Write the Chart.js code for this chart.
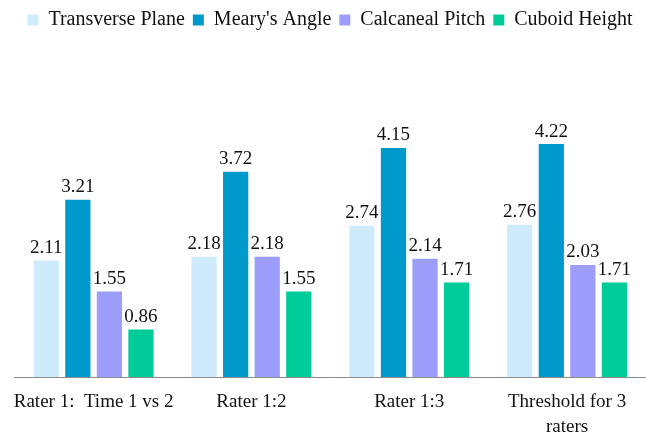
<!DOCTYPE html>
<html>
<head>
<meta charset="utf-8">
<script src="https://cdn.jsdelivr.net/npm/chart.js@4.4.1/dist/chart.umd.min.js"></script>
<style>
  html, body { margin: 0; padding: 0; background: #fff; }
  #wrap { width: 646px; height: 437px; }
</style>
</head>
<body>
<div id="wrap"><canvas id="barChart"></canvas></div>
<script>
const categories = ['Rater 1:  Time 1 vs 2', 'Rater 1:2', 'Rater 1:3', ['Threshold for 3', 'raters']];
const seriesNames = ['Transverse Plane', "Meary's Angle", 'Calcaneal Pitch', 'Cuboid Height'];
const transversePlane = [2.11, 2.18, 2.74, 2.76];
const mearysAngle = [3.21, 3.72, 4.15, 4.22];
const calcanealPitch = [1.55, 2.18, 2.14, 2.03];
const cuboidHeight = [0.86, 1.55, 1.71, 1.71];
const colors = ['#cdebfb', '#0099cc', '#9d9dfc', '#00cc99'];

const serif = "'Liberation Serif', 'Times New Roman', serif";

// draws the value above each bar
const valueLabels = {
    id: 'valueLabels',
    afterDatasetsDraw(chart) {
        const ctx = chart.ctx;
        ctx.save();
        ctx.font = '19px ' + serif;
        ctx.fillStyle = '#111';
        ctx.textAlign = 'center';
        ctx.textBaseline = 'bottom';
        chart.data.datasets.forEach((ds, i) => {
            chart.getDatasetMeta(i).data.forEach((bar, j) => {
                ctx.fillText(ds.data[j].toFixed(2), bar.x, bar.y - 3);
            });
        });
        ctx.restore();
    }
};

const seriesData = [transversePlane, mearysAngle, calcanealPitch, cuboidHeight];

const ctx = document.getElementById('barChart').getContext('2d');
new Chart(ctx, {
    type: 'bar',
    data: {
        labels: categories,
        datasets: seriesNames.map((name, i) => ({
            label: name,
            data: seriesData[i],
            backgroundColor: colors[i],
            borderWidth: 0,
            categoryPercentage: 0.8,
            barPercentage: 0.8
        }))
    },
    options: {
        responsive: true,
        maintainAspectRatio: false,
        animation: false,
        layout: { padding: { left: 14, right: 0, top: 2, bottom: 0 } },
        plugins: {
            legend: {
                position: 'top',
                labels: {
                    font: { family: serif, size: 20 },
                    color: '#111',
                    boxWidth: 11,
                    boxHeight: 11,
                    padding: 8
                }
            },
            tooltip: { enabled: false }
        },
        scales: {
            x: {
                grid: { display: false, drawTicks: false },
                border: { display: true, color: '#8c8c8c', width: 1 },
                ticks: {
                    font: { family: serif, size: 19, lineHeight: 1.35 },
                    color: '#111',
                    padding: 12,
                    maxRotation: 0,
                    autoSkip: false
                },
                afterFit(scale) {
                    scale.height = 60;
                }
            },
            y: {
                display: false,
                min: 0,
                max: 5
            }
        }
    },
    plugins: [valueLabels, {
        id: 'legendSpace',
        beforeInit(chart) {
            const fit = chart.legend.fit;
            chart.legend.fit = function () {
                fit.bind(chart.legend)();
                this.height = 99;
            };
        }
    }]
});
</script>
</body>
</html>
